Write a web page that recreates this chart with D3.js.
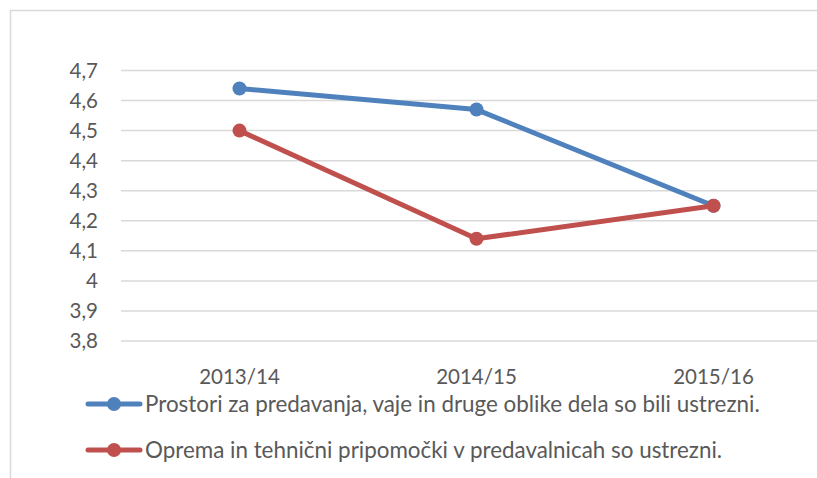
<!DOCTYPE html>
<html>
<head>
<meta charset="utf-8">
<script src="https://cdn.jsdelivr.net/npm/d3@7"></script>
<style>
  body { margin: 0; background: #fff; }
  svg { display: block; font-family: Lato, "Open Sans", sans-serif; }
</style>
</head>
<body>
<svg width="817" height="478"></svg>
<script>
// chart data
const years = ["2013/14", "2014/15", "2015/16"];
const prostori = [4.64, 4.57, 4.25];
const oprema = [4.50, 4.14, 4.25];
const seriesNames = [
  "Prostori za predavanja, vaje in druge oblike dela so bili ustrezni.",
  "Oprema in tehnični pripomočki v predavalnicah so ustrezni."
];
const yTicks = [3.8, 3.9, 4.0, 4.1, 4.2, 4.3, 4.4, 4.5, 4.6, 4.7];

const colors = ["#4F81BD", "#C0504D"];
const series = [prostori, oprema];

const svg = d3.select("svg");

// chart area border (left + top only, rest runs off the picture)
svg.append("path")
  .attr("d", "M10.5,478 V10.5 H817")
  .attr("fill", "none")
  .attr("stroke", "#d9d9d9")
  .attr("stroke-width", 1.5);

let x = d3.scaleBand()
  .domain(years)
  .range([121, 832]);

let y = d3.scaleLinear()
  .domain([3.8, 4.7])
  .range([341, 70.5]);

const fmt = v => d3.format(".1f")(v).replace(".0", "").replace(".", ",");

// gridlines
svg.append("g")
  .selectAll("line")
  .data(yTicks)
  .join("line")
    .attr("x1", 121)
    .attr("x2", 832)
    .attr("y1", d => y(d))
    .attr("y2", d => y(d))
    .attr("stroke", "#d9d9d9")
    .attr("stroke-width", 1.5);

// y labels
svg.append("g")
  .selectAll("text")
  .data(yTicks)
  .join("text")
    .attr("x", 98)
    .attr("y", d => y(d))
    .attr("dy", "0.36em")
    .attr("text-anchor", "end")
    .attr("fill", "#595959")
    .attr("font-size", 20.5)
    .text(fmt);

// x labels
svg.append("g")
  .selectAll("text")
  .data(years)
  .join("text")
    .attr("x", d => x(d) + x.bandwidth() / 2)
    .attr("y", 384)
    .attr("text-anchor", "middle")
    .attr("fill", "#595959")
    .attr("font-size", 20.5)
    .text(d => d);

let line = d3.line()
  .x((d, i) => x(years[i]) + x.bandwidth() / 2)
  .y(d => y(d));

series.forEach((s, k) => {
  const g = svg.append("g");
  g.append("path")
    .datum(s)
    .attr("d", line)
    .attr("fill", "none")
    .attr("stroke", colors[k])
    .attr("stroke-width", 5)
    .attr("stroke-linejoin", "round")
    .attr("stroke-linecap", "round");
  g.selectAll("circle")
    .data(s)
    .join("circle")
      .attr("cx", (d, i) => x(years[i]) + x.bandwidth() / 2)
      .attr("cy", d => y(d))
      .attr("r", 7)
      .attr("fill", colors[k]);
});

// legend
const legend = svg.append("g")
  .selectAll("g")
  .data(seriesNames)
  .join("g")
    .attr("transform", (d, i) => `translate(0,${404 + i * 46})`);

legend.append("line")
  .attr("x1", 88).attr("x2", 140)
  .attr("stroke", (d, i) => colors[i])
  .attr("stroke-width", 5)
  .attr("stroke-linecap", "round");

legend.append("circle")
  .attr("cx", 114)
  .attr("r", 7)
  .attr("fill", (d, i) => colors[i]);

legend.append("text")
  .attr("x", 145)
  .attr("dy", "0.36em")
  .attr("fill", "#595959")
  .attr("font-size", 22.4)
  .text(d => d);
</script>
</body>
</html>
